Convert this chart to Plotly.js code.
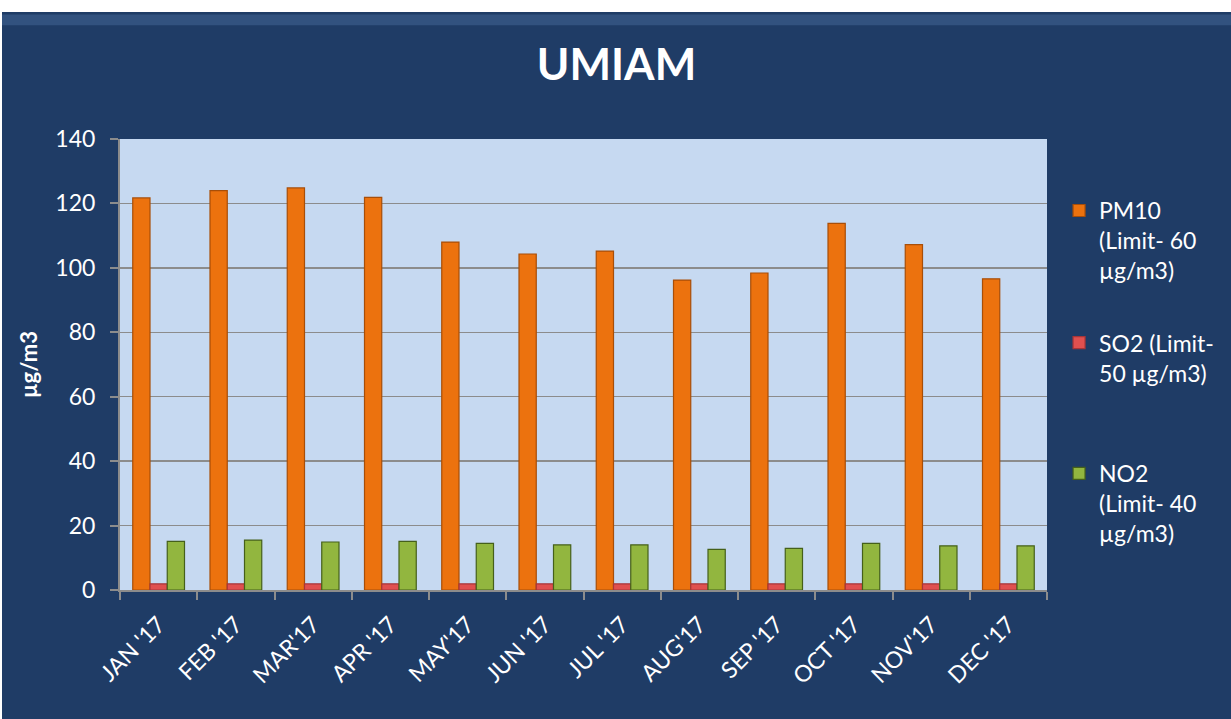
<!DOCTYPE html>
<html>
<head>
<meta charset="utf-8">
<script src="https://cdn.plot.ly/plotly-3.0.1.min.js"></script>
<style>
  html, body { margin: 0; padding: 0; background: #ffffff; width: 1231px; height: 719px; overflow: hidden; }
  #chart { position: absolute; left: 2px; top: 12px; width: 1229px; height: 707px; }
</style>
</head>
<body>
<div id="chart"></div>
<script>
const months = ["JAN '17", "FEB '17", "MAR'17", "APR '17", "MAY'17", "JUN '17", "JUL '17", "AUG'17", "SEP '17", "OCT '17", "NOV'17", "DEC '17"];
const pm10 = [121.7, 124.0, 124.8, 121.9, 108.0, 104.3, 105.2, 96.2, 98.4, 113.8, 107.2, 96.6];
const so2  = [1.9, 1.9, 1.9, 1.9, 1.9, 1.9, 1.9, 1.9, 1.9, 1.9, 1.9, 1.9];
const no2  = [15.1, 15.5, 14.9, 15.1, 14.5, 14.0, 14.0, 12.6, 12.9, 14.5, 13.7, 13.7];
const seriesNames = [
  "PM10<br>(Limit- 60<br>µg/m3)",
  "SO2 (Limit-<br>50 µg/m3)",
  "NO2<br>(Limit- 40<br>µg/m3)"
];
const yTicks = [0, 20, 40, 60, 80, 100, 120, 140];

const traces = [
  { type: 'bar', x: months, y: pm10, name: seriesNames[0], legend: 'legend',
    marker: { color: '#EC720E', line: { color: '#A84E08', width: 1.2 } } },
  { type: 'bar', x: months, y: so2, name: seriesNames[1], legend: 'legend2',
    marker: { color: '#E0504F', line: { color: '#A83538', width: 1.2 } } },
  { type: 'bar', x: months, y: no2, name: seriesNames[2], legend: 'legend3',
    marker: { color: '#92B63F', line: { color: '#45601A', width: 1.2 } } }
];

const legendBase = {
  x: 1.013, xanchor: 'left', yanchor: 'top',
  bgcolor: 'rgba(0,0,0,0)',
  font: { size: 23, color: '#FFFFFF', family: 'Lato, "Open Sans", sans-serif' },
  valign: 'top', itemwidth: 30
};

const layout = {
  width: 1229, height: 707,
  paper_bgcolor: '#1F3C66',
  plot_bgcolor: '#C6D9F1',
  margin: { l: 118, r: 184, t: 127, b: 129 },
  font: { family: 'Lato, "Open Sans", sans-serif', color: '#FFFFFF', size: 23 },
  title: { text: '<b>UMIAM</b>', font: { size: 44, color: '#FFFFFF', family: 'Lato, sans-serif' },
           x: 0.5, xanchor: 'center', y: 0.926, yref: 'container', yanchor: 'middle' },
  barmode: 'group',
  bargap: 0.33,
  bargroupgap: 0,
  showlegend: true,
  legend: Object.assign({}, legendBase, { y: 0.889 }),
  legend2: Object.assign({}, legendBase, { y: 0.596 }),
  legend3: Object.assign({}, legendBase, { y: 0.306 }),
  shapes: [
    { type: 'rect', xref: 'paper', yref: 'paper', layer: 'below',
      x0: -0.2, x1: 1.3, y0: 1.252, y1: 1.276,
      fillcolor: 'rgba(95,135,185,0.3)', line: { width: 0 } }
  ],
  xaxis: {
    type: 'category',
    tickangle: -45,
    tickson: 'boundaries',
    ticks: 'outside', ticklen: 8, tickcolor: '#8C8C8C', tickwidth: 2,
    ticklabelstandoff: 10,
    showline: true, linecolor: '#8C8C8C', linewidth: 2,
    showgrid: false,
    tickfont: { size: 23, color: '#FFFFFF' }
  },
  yaxis: {
    range: [0, 140],
    tickvals: yTicks,
    ticks: 'outside', ticklen: 8, tickcolor: '#8C8C8C', tickwidth: 2,
    ticklabelstandoff: 10,
    showline: true, linecolor: '#8C8C8C', linewidth: 2,
    gridcolor: '#8C8C8C', gridwidth: 1.5,
    zeroline: false,
    tickfont: { size: 23, color: '#FFFFFF' },
    title: { text: '<b>µg/m3</b>', font: { size: 22, color: '#FFFFFF' }, standoff: 12 }
  }
};

Plotly.newPlot('chart', traces, layout, { displayModeBar: false, staticPlot: true });
</script>
</body>
</html>
